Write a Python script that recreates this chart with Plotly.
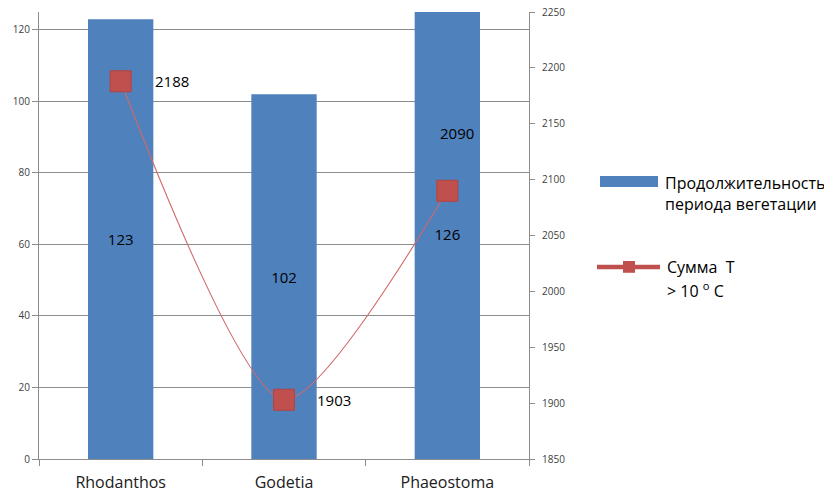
import plotly.graph_objects as go

# Flower species, growing-season length (days) and accumulated temperature sum (> 10 °C)
categories = ["Rhodanthos", "Godetia", "Phaeostoma"]
season_days = [123, 102, 126]
temp_sum = [2188, 1903, 2090]

BAR_BLUE = "#4F81BD"
LINE_RED = "#C0504D"
GRID = "#8C8C8C"
FONT = "Open Sans"

fig = go.Figure()

fig.add_trace(go.Bar(
    x=categories, y=season_days, width=0.4,
    marker=dict(color=BAR_BLUE, line=dict(width=0)),
    text=[str(v) for v in season_days], textposition="inside",
    insidetextanchor="middle", textangle=0,
    textfont=dict(family=FONT, size=15, color="black"),
    cliponaxis=True, showlegend=False, yaxis="y",
))

fig.add_trace(go.Scatter(
    x=categories, y=temp_sum, yaxis="y2",
    mode="lines+markers",
    line=dict(shape="spline", smoothing=0.7, color="#D06A67", width=1.1),
    marker=dict(symbol="square", size=21, color=LINE_RED,
                line=dict(color="#B24441", width=1)),
    showlegend=False,
))

# value labels of the temperature line
offsets = [(32, 0, "left"), (31, 0, "left"), (10, 58, "center")]
annotations = []
for cat, val, (dx, dy, anchor) in zip(categories, temp_sum, offsets):
    annotations.append(dict(
        x=cat, y=val, xref="x", yref="y2", text=str(val), showarrow=False,
        xanchor=anchor, yanchor="middle", xshift=dx, yshift=dy,
        font=dict(family=FONT, size=15, color="black"),
    ))

# hand-drawn legend on the right
legend_font = dict(family=FONT, size=16, color="black")
annotations += [
    dict(x=1.2735, y=0.618, xref="paper", yref="paper", text="Продолжительность",
         showarrow=False, xanchor="left", yanchor="middle", font=legend_font),
    dict(x=1.2735, y=0.570, xref="paper", yref="paper", text="периода вегетации",
         showarrow=False, xanchor="left", yanchor="middle", font=legend_font),
    dict(x=1.2776, y=0.430, xref="paper", yref="paper", text="Сумма  Т",
         showarrow=False, xanchor="left", yanchor="middle", font=legend_font),
    dict(x=1.2776, y=0.378, xref="paper", yref="paper", text="> 10 <sup>o</sup> C",
         showarrow=False, xanchor="left", yanchor="middle", font=legend_font),
]

shapes = [
    dict(type="rect", xref="paper", yref="paper", x0=1.1449, x1=1.2633,
         y0=0.6085, y1=0.6331, fillcolor=BAR_BLUE, line=dict(width=0)),
    dict(type="line", xref="paper", yref="paper", x0=1.1388, x1=1.2673,
         y0=0.4295, y1=0.4295, line=dict(color=LINE_RED, width=4.5)),
    dict(type="rect", xref="paper", yref="paper", x0=1.1918, x1=1.2163,
         y0=0.4166, y1=0.4430, fillcolor=LINE_RED, line=dict(width=0)),
]

fig.update_layout(
    width=824, height=494,
    margin=dict(l=39, r=295, t=12, b=35, autoexpand=False),
    paper_bgcolor="white", plot_bgcolor="white",
    font=dict(family=FONT, color="#404040"),
    bargap=0.6,
    xaxis=dict(
        type="category", range=[-0.5, 2.5], automargin=False,
        showline=True, linecolor=GRID, linewidth=1,
        ticks="outside", tickson="boundaries", ticklen=6, tickcolor=GRID,
        ticklabelstandoff=9,
        tickfont=dict(family=FONT, size=16, color="#202020"),
        showgrid=False, fixedrange=True,
    ),
    yaxis=dict(
        range=[0, 125], tick0=0, dtick=20, automargin=False,
        showline=True, linecolor=GRID, linewidth=1,
        ticks="outside", ticklen=6, tickcolor=GRID,
        showgrid=True, gridcolor=GRID, gridwidth=1, zeroline=False,
        tickfont=dict(family=FONT, size=10, color="#404040"),
    ),
    yaxis2=dict(
        range=[1850, 2250], tick0=1850, dtick=50, automargin=False,
        overlaying="y", side="right",
        showline=True, linecolor=GRID, linewidth=1,
        ticks="outside", ticklen=5, tickcolor=GRID,
        ticklabelstandoff=5,
        showgrid=False, zeroline=False,
        tickfont=dict(family=FONT, size=10, color="#404040"),
    ),
    annotations=annotations,
    shapes=shapes,
)

fig.write_html("out.html")
